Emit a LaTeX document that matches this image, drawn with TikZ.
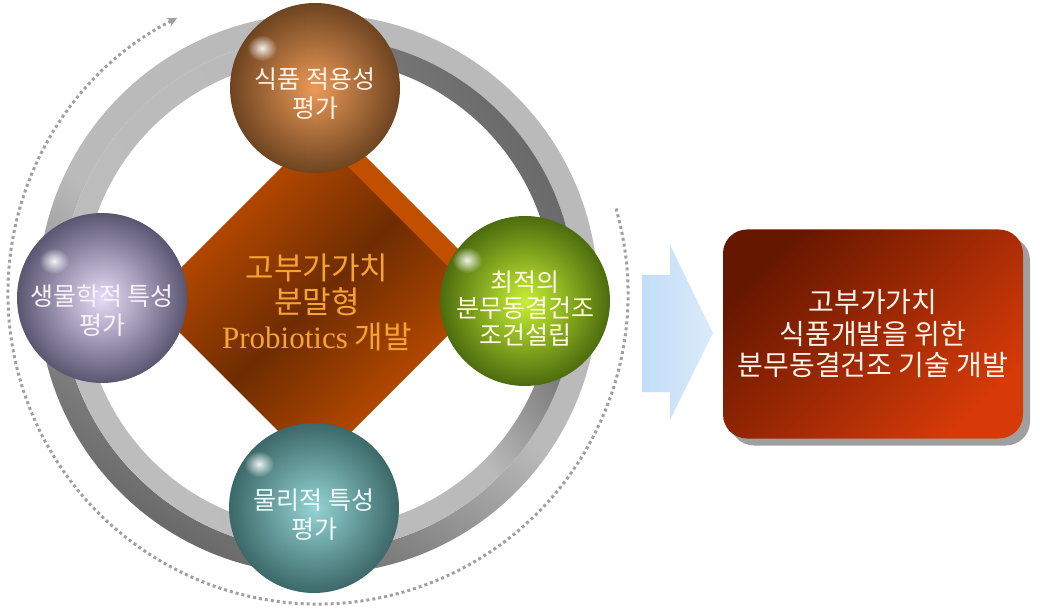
\documentclass[tikz,border=0pt]{standalone}
\usepackage{fontspec}
\newfontfamily\kr{Noto Sans CJK KR}
\newfontfamily\lat{Liberation Serif}
\usetikzlibrary{calc,shadows,fadings,arrows.meta}

\definecolor{ringlight}{HTML}{BABABA}
\definecolor{ringdark}{HTML}{6A6A6A}
\definecolor{coreorange}{HTML}{CC5200}
\definecolor{coredark}{HTML}{6E2C00}
\definecolor{coreside}{HTML}{C24E00}
\definecolor{coretext}{HTML}{F5A333}
\definecolor{goaldark}{HTML}{651700}
\definecolor{goalred}{HTML}{D63A08}
\definecolor{arrowblue}{HTML}{C2DDF7}
\definecolor{dotgray}{HTML}{A0A0A0}
\definecolor{foodin}{HTML}{EC9A58}
\definecolor{foodout}{HTML}{6E4420}
\definecolor{bioin}{HTML}{E8DCF8}
\definecolor{bioout}{HTML}{5A5672}
\definecolor{condin}{HTML}{C8F034}
\definecolor{condout}{HTML}{4C6C0E}
\definecolor{physin}{HTML}{94D4D4}
\definecolor{physout}{HTML}{3C6868}

\pgfdeclareverticalshading{ringouter}{100bp}{color(0bp)=(ringdark); color(25bp)=(ringdark); color(33bp)=(ringdark!75!ringlight); color(48bp)=(ringlight); color(100bp)=(ringlight)}
\pgfdeclareverticalshading{ringinner}{100bp}{color(0bp)=(ringlight!92!white); color(56bp)=(ringlight); color(67bp)=(ringdark!85!ringlight); color(75bp)=(ringdark); color(100bp)=(ringdark)}
\tikzfading[name=shinefade,inner color=transparent!0,outer color=transparent!100]

\begin{document}
\begin{tikzpicture}[x=1pt,y=-1pt,
  ball/.style={circle,minimum size=170pt,inner sep=0pt,shading=radial},
  balltext/.style={align=center,font=\kr\fontsize{25}{29}\selectfont},
  shine/.style={white,opacity=.9,path fading=shinefade},
  loop arrow/.style={dotgray,line width=3pt,dash pattern=on 3pt off 3pt,-{Stealth[length=10pt,width=10pt]}}]
\useasboundingbox (0,0) rectangle (1040,609);

\coordinate (o) at (318,294);
\coordinate (dl) at (148,301);
\coordinate (dt) at (315,134);
\coordinate (dr) at (482,301);
\coordinate (db) at (315,468);

% dotted loop
\draw[loop arrow] ($(o)+(-16:310)$) arc[start angle=-16,end angle=243,radius=310];

% ring
\shade[even odd rule,shading=ringouter,shading angle=-30] (o) circle[radius=280] (o) circle[radius=257];
\shade[even odd rule,shading=ringinner,shading angle=-60] (o) circle[radius=257] (o) circle[radius=235];

% core diamond
\fill[coreside] ($(dl)+(14,-14)$) -- ($(dt)+(14,-14)$) -- ($(dr)+(14,-14)$) -- ($(db)+(14,-14)$) -- cycle;
\shade[top color=coreorange,bottom color=coreorange,middle color=coredark,shading angle=45] (dl) -- (dt) -- (dr) -- (db) -- cycle;
\node[align=center,text=coretext,font=\kr\fontsize{31}{34.5}\selectfont] (core) at (317,302) {고부가가치\\분말형\\{\lat Probiotics} 개발};

% spheres
\node[ball,inner color=foodin,outer color=foodout] (food) at (315,88) {};
\node[ball,inner color=bioin,outer color=bioout] (bio) at (102,298) {};
\node[ball,inner color=condin,outer color=condout] (cond) at (525,301) {};
\node[ball,inner color=physin,outer color=physout] (phys) at (314,508) {};

\fill[shine] ($(food)+(-53,-40)$) ellipse[x radius=15,y radius=13];
\fill[shine] ($(bio)+(-48,-37)$) ellipse[x radius=15,y radius=13];
\fill[shine] ($(cond)+(-58,-41)$) ellipse[x radius=15,y radius=13];
\fill[shine] ($(phys)+(-55,-44)$) ellipse[x radius=15,y radius=13];

\node[balltext,text=white!90!orange] (food-t) at ($(food)+(0,6)$) {식품 적용성\\평가};
\node[balltext,text=white!95!violet] (bio-t) at ($(bio)+(0,13)$) {생물학적 특성\\평가};
\node[balltext,text=white!88!yellow,font=\kr\fontsize{25}{26.5}\selectfont] (cond-t) at ($(cond)+(0,7)$) {최적의\\분무동결건조\\조건설립};
\node[balltext,text=white!95!cyan] (phys-t) at ($(phys)+(0,7)$) {물리적 특성\\평가};

% block arrow
\shade[left color=arrowblue,right color=arrowblue!60!white] (642,275) -- (670,275) -- (670,245) -- (713,333) -- (670,420) -- (670,392) -- (642,392) -- cycle;

% result box
\node[rounded corners=24pt,minimum width=300pt,minimum height=209pt,top color=goaldark,bottom color=goalred,shading angle=45,
  drop shadow={shadow xshift=7pt,shadow yshift=-7pt,fill=gray!75,opacity=1},
  align=center,text=white!92!orange,font=\kr\fontsize{28}{31.5}\selectfont] (goal) at (873,334) {고부가가치\\식품개발을 위한\\분무동결건조 기술 개발};
\end{tikzpicture}
\end{document}
